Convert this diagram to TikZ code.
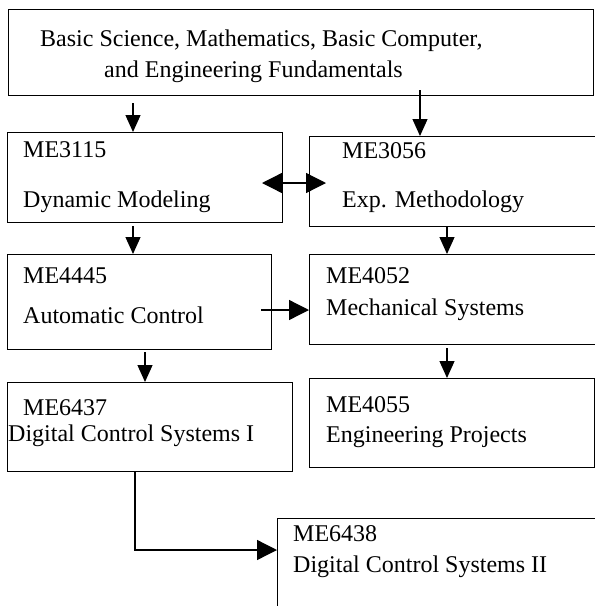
\documentclass[tikz,border=0pt]{standalone}
\usepackage{fontspec}
\setmainfont{Liberation Serif}
\usetikzlibrary{arrows.meta, positioning}

\begin{document}
\begin{tikzpicture}[
    x=1pt, y=-1pt,
    box/.style={rectangle, draw=black, line width=1.3pt, anchor=north west,
                inner sep=0pt},
    lbl/.style={anchor=base west, inner sep=0pt, font=\fontsize{24}{28}\selectfont},
    arrow/.style={-{Triangle[length=17pt, width=15pt]}, line width=1.3pt},
    harrow/.style={-{Triangle[length=20pt, width=20pt]}, line width=1.3pt},
    darrow/.style={{Triangle[length=20pt, width=20pt]}-{Triangle[length=20pt, width=20pt]},
                   line width=1.3pt}
]
\useasboundingbox (0,0) rectangle (595,606);
\clip (0,0) rectangle (595,606);

% Fundamentals (top)
\node[box, minimum width=585pt, minimum height=86pt] at (8,9) (fund) {};
\node[lbl] at (40,46) (fund1) {Basic Science, Mathematics, Basic Computer,};
\node[lbl] at (104,77) (fund2) {and Engineering Fundamentals};

% First row
\node[box, minimum width=275pt, minimum height=90pt] at (7,132) (me3115) {};
\node[lbl] at (23,157) (me3115a) {ME3115};
\node[lbl] at (23,207) (me3115b) {Dynamic Modeling};

\node[box, minimum width=300pt, minimum height=90pt] at (309,136) (me3056) {};
\node[lbl] at (342,158) (me3056a) {ME3056};
\node[lbl] at (342,207) (me3056b) {Exp. Methodology};

% Second row
\node[box, minimum width=264pt, minimum height=95pt] at (7,254) (me4445) {};
\node[lbl] at (23,283) (me4445a) {ME4445};
\node[lbl] at (23,323) (me4445b) {Automatic Control};

\node[box, minimum width=300pt, minimum height=90pt] at (309,254) (me4052) {};
\node[lbl] at (326,283) (me4052a) {ME4052};
\node[lbl] at (326,315) (me4052b) {Mechanical Systems};

% Third row
\node[box, minimum width=285pt, minimum height=89pt] at (7,382) (me6437) {};
\node[lbl] at (23,415) (me6437a) {ME6437};
\node[lbl] at (8,441) (me6437b) {Digital Control Systems I};

\node[box, minimum width=285pt, minimum height=89pt] at (309,378) (me4055) {};
\node[lbl] at (326,412) (me4055a) {ME4055};
\node[lbl] at (326,442) (me4055b) {Engineering Projects};

% Last course
\node[box, minimum width=330pt, minimum height=88pt] at (277,518) (me6438) {};
\node[lbl] at (293,541) (me6438a) {ME6438};
\node[lbl] at (293,572) (me6438b) {Digital Control Systems II};

% Arrow tails
\coordinate (t1) at (133,103);
\coordinate (t2) at (420,90);
\coordinate (t3) at (133,226);
\coordinate (t4) at (447,226);
\coordinate (t5) at (145,352);
\coordinate (t6) at (447,348);
\coordinate (d1) at (262,183);
\coordinate (d2) at (326,183);
\coordinate (h1) at (261,310);
\coordinate (e1) at (135,471);

% Arrows downwards
\draw[arrow] (t1) -- (t1 |- me3115.north);
\draw[arrow] (t2) -- (t2 |- me3056.north);
\draw[arrow] (t3) -- (t3 |- me4445.north);
\draw[arrow] (t4) -- (t4 |- me4052.north);
\draw[arrow] (t5) -- (t5 |- me6437.north);
\draw[arrow] (t6) -- (t6 |- me4055.north);

% Sideways
\draw[darrow] (d1) -- (d2);
\draw[harrow] (h1) -- (h1 -| me4052.west);
\draw[harrow] (e1) |- ([yshift=-32pt]me6438.north west);

\end{tikzpicture}
\end{document}
